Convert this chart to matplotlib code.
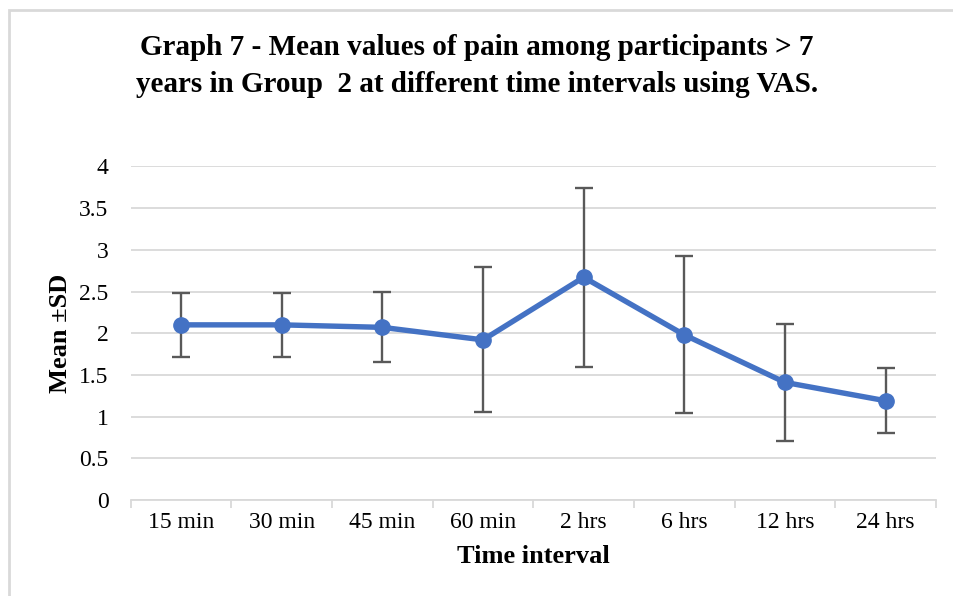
import matplotlib.pyplot as plt
import matplotlib.patches as mpatches
import numpy as np

categories = ["15 min", "30 min", "45 min", "60 min", "2 hrs", "6 hrs", "12 hrs", "24 hrs"]
means = [2.10, 2.10, 2.07, 1.92, 2.67, 1.98, 1.41, 1.19]
sds = [0.38, 0.38, 0.42, 0.87, 1.07, 0.94, 0.70, 0.39]
yticks = [0, 0.5, 1, 1.5, 2, 2.5, 3, 3.5, 4]
ytick_labels = ["0", "0.5", "1", "1.5", "2", "2.5", "3", "3.5", "4"]

plt.rcParams['font.family'] = ['Liberation Serif', 'DejaVu Serif']

W, H = 954, 596
fig = plt.figure(figsize=(W / 100, H / 100), dpi=100)

# outer chart border (light gray), right/bottom edges run off the image
fig.patches.append(mpatches.Rectangle((9 / W, -0.1), 1.2, 1 - 10 / H + 0.1,
                                      transform=fig.transFigure, fill=False,
                                      edgecolor="#d9d9d9", linewidth=2))

ax = fig.add_axes([130.7 / W, 1 - 500 / H, (936 - 130.7) / W, (500 - 166.4) / H])
x = np.arange(len(categories))

ax.errorbar(x, means, yerr=sds, fmt="none", ecolor="#595959", elinewidth=1.7,
            capsize=6.5, capthick=1.7, zorder=2)
ax.plot(x, means, color="#4472C4", linewidth=3.9, marker="o", markersize=11,
        zorder=3, solid_capstyle="round")

ax.set_xlim(-0.5, len(categories) - 0.5)
ax.set_ylim(0, 4)
ax.set_yticks(yticks)
ax.set_yticklabels(ytick_labels)
ax.yaxis.grid(True, color="#d9d9d9", linewidth=1.3)
ax.set_axisbelow(True)
ax.tick_params(axis="y", length=0, pad=16, labelsize=17)

ax.set_xticks(x)
ax.set_xticklabels(categories)
ax.set_xticks(np.arange(len(categories) + 1) - 0.5, minor=True)
ax.tick_params(axis="x", which="major", length=0, pad=9, labelsize=17)
ax.tick_params(axis="x", which="minor", length=6, color="#d9d9d9", width=1.3)

for s in ["top", "right", "left"]:
    ax.spines[s].set_visible(False)
ax.spines["bottom"].set_color("#d9d9d9")
ax.spines["bottom"].set_linewidth(1.3)

ax.set_xlabel("Time interval", fontsize=19, fontweight="bold", labelpad=8)
ax.set_ylabel("Mean ±SD", fontsize=19, fontweight="bold", labelpad=5)

fig.text(0.5, 1 - 66 / H,
         "Graph 7 - Mean values of pain among participants > 7\nyears in Group  2 at different time intervals using VAS.",
         ha="center", va="center", fontsize=21, fontweight="bold", linespacing=1.5)

fig.savefig("out.png", dpi=100)
